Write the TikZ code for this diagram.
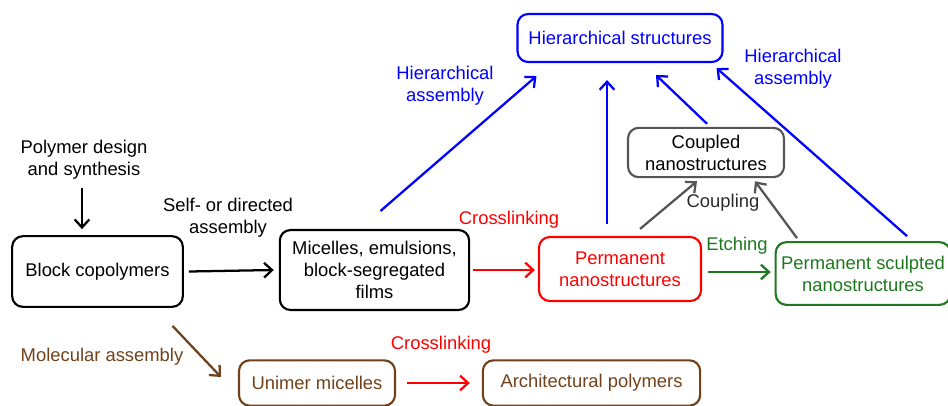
\documentclass[tikz,border=0pt]{standalone}
\usepackage{fontspec}
\setmainfont{Liberation Sans}
\usetikzlibrary{arrows.meta,calc}

\definecolor{sculptgreen}{RGB}{30,120,30}
\definecolor{molbrown}{RGB}{115,65,25}
\definecolor{couplegray}{RGB}{85,85,85}

\begin{document}
\begin{tikzpicture}[
x=0.75pt,
y=-0.75pt,
font=\fontsize{13.8}{16.5}\selectfont,
box/.style={draw, line width=1.6pt, rounded corners=8pt, align=center, inner sep=0pt},
lbl/.style={align=center, inner sep=0pt},
arr/.style={line width=1.7pt, -{Straight Barb[length=6pt,width=11pt,line width=1.7pt]}},
]

	%%%%%%%%%%%%%%%%%%%%%%%%%%%%
	%Kaesten
	%%%%%%%%%%%%%%%%%%%%%%%%%%%%
	\useasboundingbox (0,0) rectangle (948,405);

	\node [box, blue, minimum width=153.75pt, minimum height=36pt] (hier) at (620,38) {Hierarchical structures};
	\node [box, minimum width=128pt, minimum height=53pt] (block) at (97.5,271.5) {Block copolymers};
	\node [box, minimum width=142pt, minimum height=60pt] (mic) at (374.5,270) {Micelles, emulsions,\\block-segregated\\films};
	\node [box, red, minimum width=121.5pt, minimum height=48pt] (perm) at (620,269) {Permanent\\nanostructures};
	\node [box, sculptgreen, minimum width=131pt, minimum height=47pt] (sculpt) at (863,273.5) {Permanent sculpted\\nanostructures};
	\node [box, draw=couplegray, minimum width=117pt, minimum height=37pt] (coup) at (706,152.5) {Coupled\\nanostructures};
	\node [box, molbrown, minimum width=117pt, minimum height=34pt] (uni) at (317,383) {Unimer micelles};
	\node [box, molbrown, minimum width=163pt, minimum height=34pt] (arch) at (591.5,383) {Architectural polymers};

	%%%%%%%%%%%%%%%%%%%%%%%%%%%%
	%Beschriftungen
	%%%%%%%%%%%%%%%%%%%%%%%%%%%%
	\node [lbl] (poly) at (84,160) {Polymer design\\and synthesis};
	\node [lbl] (self) at (228,218) {Self- or directed\\assembly};
	\node [lbl, red] (cross1) at (509,220) {Crosslinking};
	\node [lbl, blue] (hass1) at (445,86) {Hierarchical\\assembly};
	\node [lbl, blue] (hass2) at (793,69) {Hierarchical\\assembly};
	\node [lbl, couplegray!50!black] (coupling) at (723,203) {Coupling};
	\node [lbl, sculptgreen] (etch) at (737,246) {Etching};
	\node [lbl, molbrown] (molass) at (102,357) {Molecular assembly};
	\node [lbl, red] (cross2) at (441,345) {Crosslinking};

	%%%%%%%%%%%%%%%%%%%%%%%%%%%%
	%Pfeile
	%%%%%%%%%%%%%%%%%%%%%%%%%%%%
	\draw [arr] ($(poly.south)+(-2,8)$) -- ($(poly.south |- block.north)+(-2,-6)$);
	\draw [arr] ($(block.east)+(5,0)$) -- ($(mic.west)+(-5,0)$);
	\draw [arr, red] ($(mic.east)+(3,0)$) -- ($(mic.east -| perm.west)+(-3,0)$);
	\draw [arr, sculptgreen] ($(perm.east)+(6,3)$) -- ($(perm.east -| sculpt.west)+(-4,3)$);
	\draw [arr, red] ($(uni.east)+(11,0)$) -- ($(arch.west)+(-12,0)$);
	\draw [arr, molbrown] ($(block.south)+(75,18)$) -- ($(uni.west)+(-17,-6)$);

	\draw [arr, blue] ($(mic.north)+(6,-18)$) -- ($(hier.south west)+(20,13)$);
	\draw [arr, blue] ($(perm.north)+(-13,-12)$) -- ($(hier.south)+(-13,17)$);
	\draw [arr, blue] ($(coup.north)+(1,-3)$) -- ($(hier.south)+(36,12)$);
	\draw [arr, blue] ($(sculpt.north)+(44,-5)$) -- ($(hier.south east)+(-7,5)$);

	\draw [arr, couplegray] ($(perm.north)+(20,-7)$) -- ($(coup.south)+(-9,3)$);
	\draw [arr, couplegray] ($(sculpt.north)+(-66,-3)$) -- ($(coup.south)+(49,3)$);

\end{tikzpicture}
\end{document}
